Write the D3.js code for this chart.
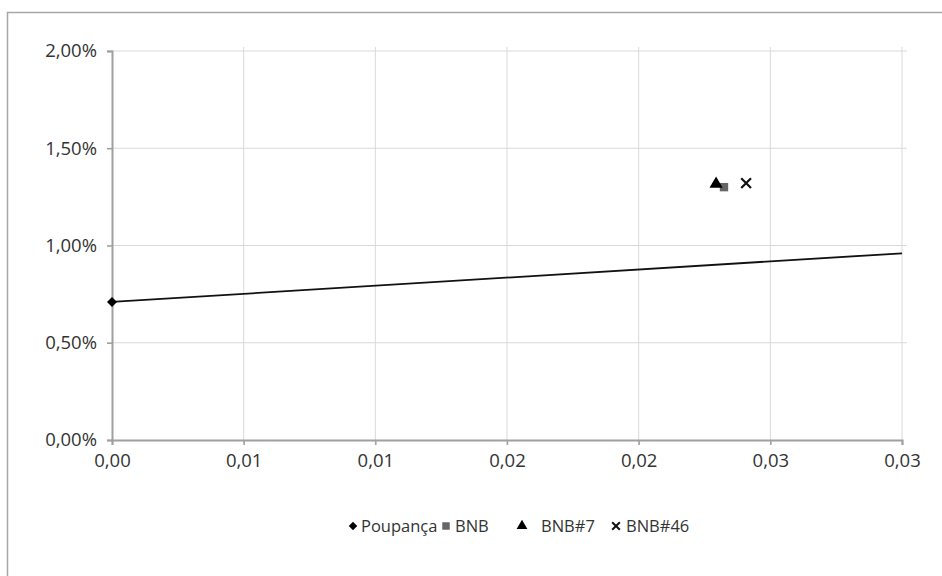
<!DOCTYPE html>
<html>
<head>
<meta charset="utf-8">
<script src="https://cdn.jsdelivr.net/npm/d3@7"></script>
<style>
  body { margin: 0; background: #fff; }
  svg { display: block; font-family: "Open Sans", "Noto Sans", sans-serif; }
</style>
</head>
<body>
<div id="chart"></div>
<script>
// data
var poupanca = [[0, 0.0071]];
var bnb = [[0.02324, 0.0130]];
var bnb7 = [[0.02294, 0.01316]];
var bnb46 = [[0.02408, 0.01321]];
var lineEnds = [[0, 0.0071], [0.03, 0.0096]];
var xTicks = [0, 0.005, 0.01, 0.015, 0.02, 0.025, 0.03];
var xTickLabels = ["0,00", "0,01", "0,01", "0,02", "0,02", "0,03", "0,03"];
var yTicks = [0, 0.005, 0.01, 0.015, 0.02];
var yTickLabels = ["0,00%", "0,50%", "1,00%", "1,50%", "2,00%"];
var legendNames = ["Poupança", "BNB", "BNB#7", "BNB#46"];

var W = 942, H = 576;
var margin = {top: 51, right: 40, bottom: 136, left: 112},
    width = 902 - margin.left,
    height = 440 - margin.top;

var svg = d3.select("#chart").append("svg")
  .attr("width", W)
  .attr("height", H);

//outer frame
svg.append("rect")
  .attr("x", 7.5).attr("y", 12.5)
  .attr("width", 1000).attr("height", 1000)
  .attr("fill", "none")
  .attr("stroke", "#a6a6a6")
  .attr("stroke-width", 1.5);

var g = svg.append("g")
  .attr("transform", "translate(" + margin.left + "," + margin.top + ")");

var x = d3.scaleLinear().domain([0, 0.03]).range([0, width]);
var y = d3.scaleLinear().domain([0, 0.02]).range([height, 0]);

//gridlines
g.append("g").selectAll("line")
  .data(xTicks.slice(1))
  .enter().append("line")
    .attr("x1", function(d) { return x(d); })
    .attr("x2", function(d) { return x(d); })
    .attr("y1", -4).attr("y2", height + 5)
    .attr("stroke", "#d9d9d9");
g.append("g").selectAll("line")
  .data(yTicks.slice(1))
  .enter().append("line")
    .attr("y1", function(d) { return y(d); })
    .attr("y2", function(d) { return y(d); })
    .attr("x1", -5).attr("x2", width + 5)
    .attr("stroke", "#d9d9d9");

//x axis
var xAxis = g.append("g")
  .attr("transform", "translate(0," + height + ")")
  .call(d3.axisBottom(x).tickValues(xTicks)
    .tickFormat(function(d, i) { return xTickLabels[i]; })
    .tickSize(5).tickPadding(9));

//y axis
var yAxis = g.append("g")
  .call(d3.axisLeft(y).tickValues(yTicks)
    .tickFormat(function(d, i) { return yTickLabels[i]; })
    .tickSize(5).tickPadding(10));

[xAxis, yAxis].forEach(function(a) {
  a.attr("font-family", null).attr("font-size", "18.5px");
  a.select(".domain").attr("stroke", "#a0a0a0").attr("stroke-width", 2);
  a.selectAll(".tick line").attr("stroke", "#a0a0a0").attr("stroke-width", 1.5);
  a.selectAll("text")
    .attr("fill", "#333")
    .style("font-size", "18.5px");
});

//line
g.append("path")
  .datum(lineEnds)
  .attr("fill", "none")
  .attr("stroke", "#111")
  .attr("stroke-width", 1.8)
  .attr("d", d3.line()
    .x(function(d) { return x(d[0]); })
    .y(function(d) { return y(d[1]); }));

//markers
var symDiamond = d3.symbol().type(d3.symbolSquare).size(50);
var symSquare = d3.symbol().type(d3.symbolSquare).size(70);
var symTri = d3.symbol().type(d3.symbolTriangle).size(75);
var symX = d3.symbol().type(d3.symbolTimes).size(64);

function addPoints(data, sym, fill, stroke, rot) {
  g.append("g").selectAll("path")
    .data(data)
    .enter().append("path")
      .attr("transform", function(d) { return "translate(" + x(d[0]) + "," + y(d[1]) + ") rotate(" + (rot || 0) + ")"; })
      .attr("d", sym)
      .attr("fill", fill)
      .attr("stroke", stroke)
      .attr("stroke-width", stroke == "none" ? 0 : 2.2);
}
addPoints(poupanca, symDiamond, "#000", "none", 45);
addPoints(bnb, symSquare, "#666", "none");
addPoints(bnb7, symTri, "#000", "none");
addPoints(bnb46, symX, "none", "#111");

//legend
var legY = 526;
var legItems = [
  {sym: d3.symbol().type(d3.symbolSquare).size(36), rot: 45, fill: "#000", stroke: "none", sx: 353, tx: 361},
  {sym: d3.symbol().type(d3.symbolSquare).size(56), rot: 0, fill: "#666", stroke: "none", sx: 446, tx: 455},
  {sym: d3.symbol().type(d3.symbolTriangle).size(50), rot: 0, fill: "#000", stroke: "none", sx: 522, tx: 541},
  {sym: d3.symbol().type(d3.symbolTimes).size(40), rot: 0, fill: "none", stroke: "#111", sx: 616, tx: 626}
];
var leg = svg.append("g");
legItems.forEach(function(it, i) {
  leg.append("path")
    .attr("transform", "translate(" + it.sx + "," + legY + ") rotate(" + it.rot + ")")
    .attr("d", it.sym)
    .attr("fill", it.fill)
    .attr("stroke", it.stroke)
    .attr("stroke-width", it.stroke == "none" ? 0 : 2);
  leg.append("text")
    .attr("x", it.tx).attr("y", legY)
    .attr("dy", "0.35em")
    .style("font-size", "16.5px")
    .style("fill", "#333")
    .text(legendNames[i]);
});
</script>
</body>
</html>
